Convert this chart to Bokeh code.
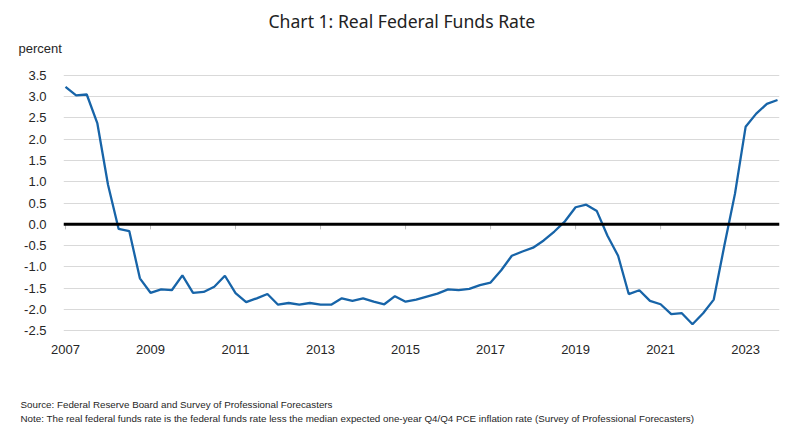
from bokeh.plotting import figure
from bokeh.layouts import column
from bokeh.models import Range1d, FixedTicker, NumeralTickFormatter, Span, Title
from bokeh.core.properties import value
from bokeh.embed import file_html
from bokeh.resources import INLINE

# ---- data ----
years = list(range(2007, 2024))
quarters = [1, 2, 3, 4]
rate = [
    3.23, 3.03, 3.05, 2.37,      # 2007
    0.93, -0.11, -0.16, -1.27,   # 2008
    -1.61, -1.53, -1.55, -1.20,  # 2009
    -1.61, -1.59, -1.47, -1.21,  # 2010
    -1.62, -1.83, -1.74, -1.64,  # 2011
    -1.89, -1.85, -1.89, -1.85,  # 2012
    -1.89, -1.89, -1.74, -1.80,  # 2013
    -1.74, -1.82, -1.88, -1.69,  # 2014
    -1.82, -1.77, -1.70, -1.63,  # 2015
    -1.53, -1.55, -1.52, -1.43,  # 2016
    -1.37, -1.08, -0.74, -0.64,  # 2017
    -0.55, -0.38, -0.17, 0.07,   # 2018
    0.40, 0.46, 0.31, -0.27,     # 2019
    -0.74, -1.64, -1.55, -1.80,  # 2020
    -1.88, -2.11, -2.09, -2.35,  # 2021
    -2.09, -1.77, -0.50, 0.72,   # 2022
    2.29, 2.60, 2.83, 2.92,      # 2023
]
x_dates = [y + (q - 1) / 4 for y in years for q in quarters]
x_tick_years = [2007, 2009, 2011, 2013, 2015, 2017, 2019, 2021, 2023]
x_tick_labels = [str(v) for v in x_tick_years]
y_ticks = [-2.5, -2.0, -1.5, -1.0, -0.5, 0.0, 0.5, 1.0, 1.5, 2.0, 2.5, 3.0, 3.5]

title_text = "Chart 1: Real Federal Funds Rate"
unit_text = "percent"
footer_lines = [
    "Source: Federal Reserve Board and Survey of Professional Forecasters",
    "Note: The real federal funds rate is the federal funds rate less the median "
    "expected one-year Q4/Q4 PCE inflation rate (Survey of Professional Forecasters)",
]

# ---- main figure ----
W, H_MAIN, H_FOOT = 794, 370, 66
p = figure(width=W, height=H_MAIN, output_backend="svg", toolbar_location=None,
           x_range=Range1d(2006.953, 2023.797), y_range=Range1d(-2.52, 3.52),
           min_border_left=63, min_border_right=15, min_border_top=74, min_border_bottom=39)
p.frame_align = False
p.outline_line_color = None
p.background_fill_color = "white"
p.border_fill_color = "white"

# title
p.title.text = title_text
p.title.align = "left"
p.title.offset = 205
p.title.standoff = -27
p.title.text_font = "Noto Sans"
p.title.text_font_size = "17.6px"
p.title.text_font_style = "normal"
p.title.text_color = "#222222"

# unit label as a second title line
p.add_layout(Title(text=unit_text, align="left", offset=-45, standoff=38,
                   text_font="Liberation Sans", text_font_size="13px",
                   text_font_style="normal", text_color="#262626"),
             "above")

# grid
p.xgrid.visible = False
p.ygrid.ticker = FixedTicker(ticks=y_ticks)
p.ygrid.grid_line_color = "#d9d9d9"
p.ygrid.grid_line_width = 1

# y axis
p.yaxis.ticker = FixedTicker(ticks=y_ticks)
p.yaxis.formatter = NumeralTickFormatter(format="0.0")
p.yaxis.axis_line_color = None
p.yaxis.major_tick_line_color = None
p.yaxis.minor_tick_line_color = None
p.yaxis.major_label_standoff = 11
p.yaxis.major_label_text_font = "Liberation Sans"
p.yaxis.major_label_text_font_size = "13px"
p.yaxis.major_label_text_color = "#262626"

# x axis
p.xaxis.ticker = FixedTicker(ticks=x_tick_years)
p.xaxis.major_label_overrides = {v: s for v, s in zip(x_tick_years, x_tick_labels)}
p.xaxis.axis_line_color = None
p.xaxis.major_tick_line_color = None
p.xaxis.minor_tick_line_color = None
p.xaxis.major_label_standoff = 7
p.xaxis.major_label_text_font = "Liberation Sans"
p.xaxis.major_label_text_font_size = "13px"
p.xaxis.major_label_text_color = "#262626"

# small tick marks hanging under the zero line
p.segment(x0=x_tick_years, y0=[0] * len(x_tick_years), x1=x_tick_years,
          y1=[-0.12] * len(x_tick_years), line_color="#bfbfbf", line_width=1)

# series line
p.line(x_dates, rate, line_color="#1764a8", line_width=2.3)

# zero line
p.add_layout(Span(location=0, dimension="width", line_color="black", line_width=3))

# ---- footer figure (pixel coordinates, y measured from its top) ----
foot = figure(width=W, height=H_FOOT, output_backend="svg", toolbar_location=None,
              x_range=Range1d(0, W), y_range=Range1d(H_FOOT, 0),
              x_axis_type=None, y_axis_type=None,
              min_border_left=0, min_border_right=0, min_border_top=0, min_border_bottom=0)
foot.frame_align = False
foot.outline_line_color = None
foot.background_fill_color = "white"
foot.border_fill_color = "white"
foot.text(x=[20, 20], y=[34, 48], text=footer_lines,
          text_font=value("Liberation Sans"), text_font_size="9.8px",
          text_color="#262626", text_align="left", text_baseline="middle")

layout = column(p, foot, spacing=0)
open("out.html", "w").write(file_html(layout, INLINE))
